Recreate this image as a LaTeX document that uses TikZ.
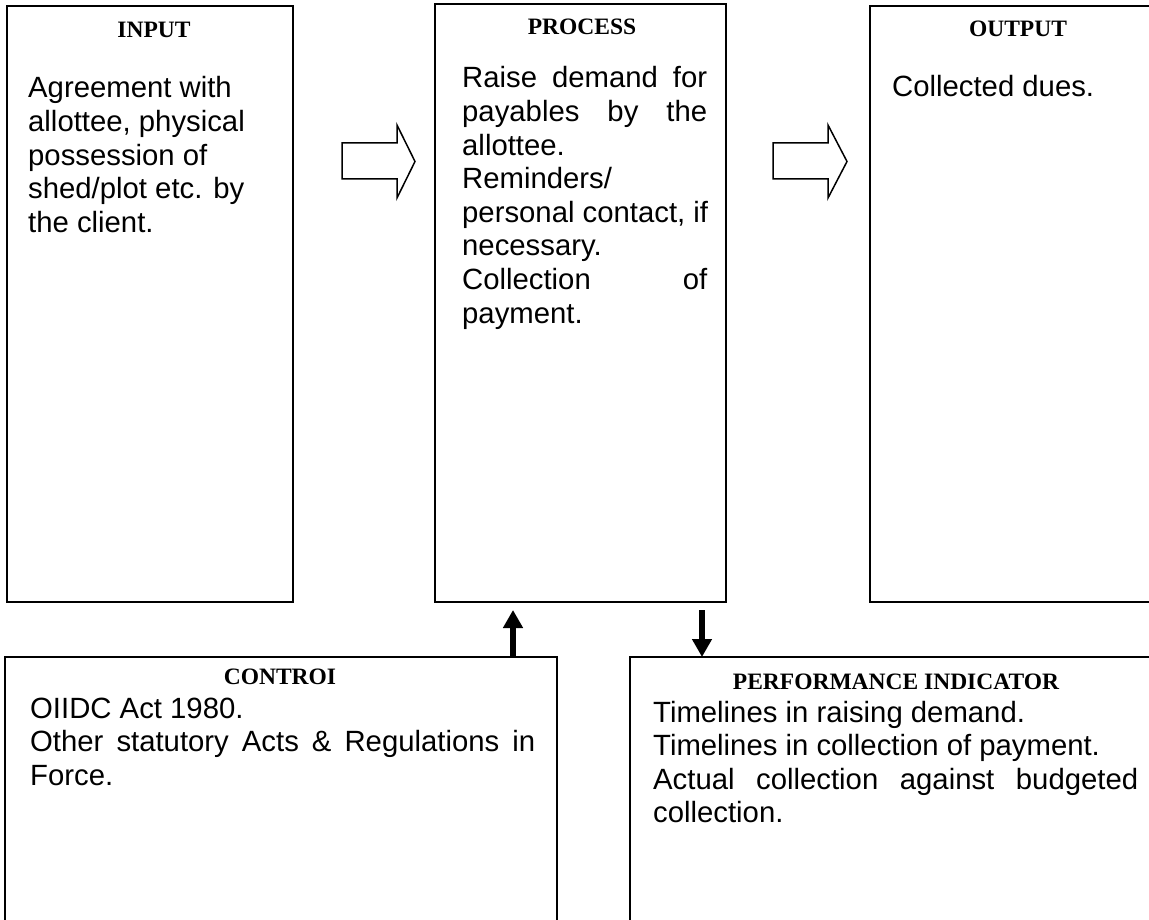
\documentclass[tikz,border=0pt]{standalone}
\usepackage{fontspec}
\setmainfont{Liberation Sans}
\newfontfamily\headfont{Liberation Serif}
\usetikzlibrary{arrows.meta}
\newcommand{\bodyfont}{\fontsize{29.3pt}{33.6pt}\selectfont}
\newcommand{\hdfont}{\headfont\bfseries\fontsize{23.5pt}{28pt}\selectfont}
\newcommand{\jline}[1]{\hbox to\hsize{#1}}
\newcommand{\lline}[1]{\hbox{#1}}
\begin{document}
\begin{tikzpicture}[x=1pt,y=-1pt,
  frame/.style={draw, line width=1.8pt, inner sep=0pt, outer sep=0pt},
  head/.style={font=\hdfont, inner sep=0pt, anchor=base},
  body/.style={font=\bodyfont, inner sep=0pt, anchor=base west},
  blockarrow/.style={draw, line width=1.5pt, line join=miter, fill=white},
  thickarrow/.style={line width=5.5pt, -{Triangle[width=19pt,length=18pt]}}]
\useasboundingbox (0,0) rectangle (1149,920);
\clip (0,0) rectangle (1149,920);
\fill[white] (0,0) rectangle (1149,920);

% boxes
\node[frame, minimum width=286, minimum height=596] (inp) at (150,304) {};
\node[frame, minimum width=291, minimum height=598] (proc) at (580.5,303) {};
\node[frame, minimum width=296, minimum height=596] (outp) at (1018,304) {};
\node[frame, minimum width=552, minimum height=323] (ctrl) at (281,818.5) {};
\node[frame, minimum width=532, minimum height=323] (perf) at (896,818.5) {};

% headings
\node[head] (inph) at (154,38) {INPUT};
\node[head] (proch) at (582,35) {PROCESS};
\node[head] (outph) at (1018,37) {OUTPUT};
\node[head] (ctrlh) at (280,684) {CONTROI};
\node[head] (perfh) at (896,689) {PERFORMANCE INDICATOR};

% body texts
\node[body] (inpt) at (28,98) {\vtop{\hsize=250pt
  \lline{Agreement with}
  \lline{allottee, physical}
  \lline{possession of}
  \lline{shed/plot etc. by}
  \lline{the client.}}};
\node[body] (proct) at (462,88) {\vtop{\hsize=245pt
  \jline{Raise\hfill demand\hfill for}
  \jline{payables\hfill by\hfill the}
  \lline{allottee.}
  \lline{Reminders/}
  \lline{personal contact, if}
  \lline{necessary.}
  \jline{Collection\hfill of}
  \lline{payment.}}};
\node[body] (outpt) at (892,97) {Collected dues.};
\node[body] (ctrlt) at (30,718) {\vtop{\hsize=505pt
  \lline{OIIDC Act 1980.}
  \jline{Other\hfill statutory\hfill Acts\hfill \&\hfill Regulations\hfill in}
  \lline{Force.}}};
\node[body] (perft) at (653,722) {\vtop{\hsize=485pt
  \lline{Timelines in raising demand.}
  \lline{Timelines in collection of payment.}
  \jline{Actual\hfill collection\hfill against\hfill budgeted}
  \lline{collection.}}};

% block arrows
\draw[blockarrow] (342,143) -- (397,143) -- (397,125) -- (415,161.5) -- (397,198) -- (397,179) -- (342,179) -- cycle;
\draw[blockarrow] (773,143) -- (828,143) -- (828,125) -- (847,161.5) -- (828,198) -- (828,179) -- (773,179) -- cycle;

% thick arrows
\draw[thickarrow, shorten >=8pt] ([xshift=232]ctrl.north) coordinate (u0) -- (u0 |- proc.south);
\draw[thickarrow, shorten <=8pt] ([xshift=121.5]proc.south) coordinate (d0) -- (d0 |- perf.north);
\end{tikzpicture}
\end{document}
